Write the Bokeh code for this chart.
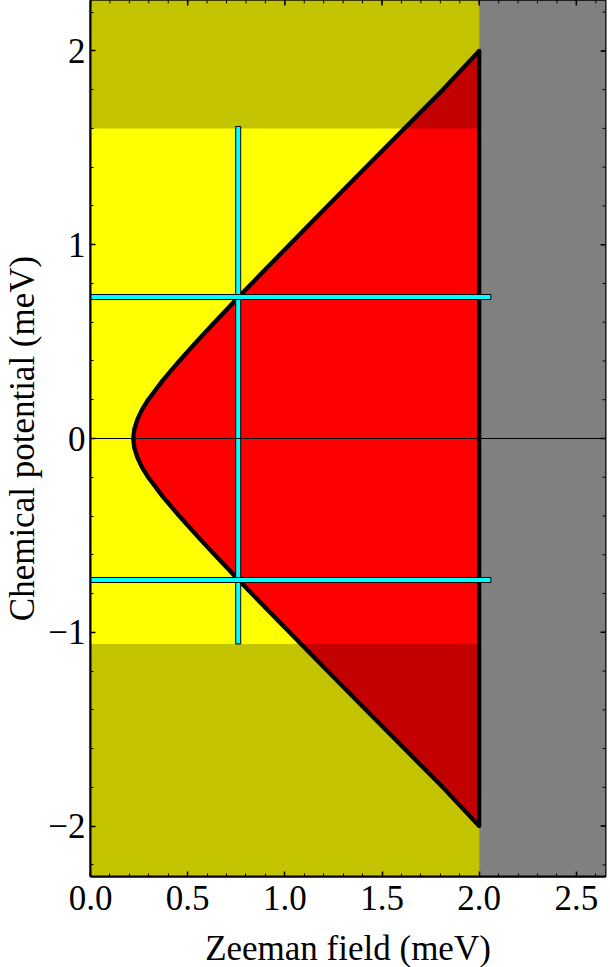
import numpy as np
from bokeh.plotting import figure
from bokeh.models import Range1d, FixedTicker, Span, CustomJSTickFormatter
from bokeh.embed import file_html
from bokeh.resources import INLINE

# ---- data ----
mu_curve = [-2.0, -1.8, -1.6, -1.4, -1.2, -1.0, -0.85, -0.73, -0.6, -0.5, -0.4, -0.3,
            -0.2, -0.15, -0.1, -0.05, 0.0, 0.05, 0.1, 0.15, 0.2, 0.3, 0.4, 0.5, 0.6,
            0.73, 0.85, 1.0, 1.2, 1.4, 1.6, 1.8, 2.0]
zeeman_curve = [2.0, 1.813, 1.615, 1.417, 1.22, 1.024, 0.878, 0.762, 0.639, 0.546, 0.457,
                0.372, 0.297, 0.266, 0.242, 0.226, 0.22, 0.226, 0.242, 0.266, 0.297, 0.372,
                0.457, 0.546, 0.639, 0.762, 0.878, 1.024, 1.22, 1.417, 1.615, 1.813, 2.0]

zeeman_limit = 2.0          # gray region starts here
zeeman_max = 2.65
mu_min, mu_max = -2.26, 2.26
band_mu = [-1.06, 1.6]      # bright (yellow / red) band
cut_zeeman = 0.76           # vertical cyan cut
cut_mu = [-0.73, 0.73]      # horizontal cyan cuts
cut_zeeman_extent = [0.0, 2.06]
cut_mu_extent = [-1.06, 1.61]

x_ticks = [0.0, 0.5, 1.0, 1.5, 2.0, 2.5]
y_ticks = [-2, -1, 0, 1, 2]
x_minor = [round(0.1 * i, 2) for i in range(0, 27)]
y_minor = [round(-2.2 + 0.2 * i, 2) for i in range(0, 23)]

FONT = "Liberation Serif"
FS = "35px"

p = figure(frame_width=515, frame_height=876,
           x_range=Range1d(0, zeeman_max), y_range=Range1d(mu_min, mu_max),
           output_backend="svg", toolbar_location=None,
           min_border_left=84, min_border_right=2, min_border_top=0, min_border_bottom=0,
           x_axis_label="Zeeman field (meV)", y_axis_label="Chemical potential (meV)")
p.xgrid.grid_line_color = None
p.ygrid.grid_line_color = None
p.outline_line_color = "black"
p.outline_line_width = 2
p.background_fill_color = "white"

xt = FixedTicker(ticks=x_ticks, minor_ticks=x_minor)
yt = FixedTicker(ticks=y_ticks, minor_ticks=y_minor)
p.xaxis.ticker = xt
p.yaxis.ticker = yt
p.xaxis.formatter = CustomJSTickFormatter(code="return tick.toFixed(1);")
p.yaxis.formatter = CustomJSTickFormatter(
    code="return tick < 0 ? '\u2212' + Math.abs(tick).toFixed(0) : tick.toFixed(0);")

for ax in (p.xaxis[0], p.yaxis[0]):
    ax.major_tick_in = 5
    ax.major_tick_out = 0
    ax.minor_tick_in = 3
    ax.minor_tick_out = 0
    ax.major_tick_line_width = 1.5
    ax.minor_tick_line_width = 1
    ax.axis_line_width = 2
    ax.major_label_text_font = FONT
    ax.major_label_text_font_size = FS
    ax.major_label_text_color = "black"
    ax.axis_label_text_font = FONT
    ax.axis_label_text_font_size = FS
    ax.axis_label_text_font_style = "normal"
    ax.axis_label_text_color = "black"
p.xaxis.major_label_standoff = 9
p.xaxis.axis_label_standoff = 16
p.yaxis.major_label_standoff = 5
p.yaxis.axis_label_standoff = 3

# regions
p.quad(left=[0], right=[zeeman_limit], bottom=[mu_min], top=[mu_max],
       fill_color="#FFFF00", line_color=None)
p.quad(left=[zeeman_limit], right=[zeeman_max], bottom=[mu_min], top=[mu_max],
       fill_color="#808080", line_color=None)
p.patch(zeeman_curve, mu_curve, fill_color="#FF0000", line_color=None)
# darker zones outside the band
p.quad(left=[0, 0], right=[zeeman_limit, zeeman_limit],
       bottom=[band_mu[1], mu_min], top=[mu_max, band_mu[0]],
       fill_color="black", fill_alpha=0.235, line_color=None)

# zero line
p.add_layout(Span(location=0, dimension="width", line_color="black", line_width=1))

# boundary
p.line(zeeman_curve, mu_curve, line_color="black", line_width=4.3, line_join="round")
p.segment(x0=[zeeman_limit], y0=[mu_curve[0]], x1=[zeeman_limit], y1=[mu_curve[-1]],
          line_color="black", line_width=4.3, line_cap="round")

# cyan cuts
p.rect(x=[cut_zeeman], y=[(cut_mu_extent[0] + cut_mu_extent[1]) / 2],
       width=5, width_units="screen", height=cut_mu_extent[1] - cut_mu_extent[0],
       fill_color="#00FFFF", line_color="black", line_width=1)
p.rect(x=[(cut_zeeman_extent[0] + cut_zeeman_extent[1]) / 2] * len(cut_mu), y=cut_mu,
       width=cut_zeeman_extent[1] - cut_zeeman_extent[0], height=5, height_units="screen",
       fill_color="#00FFFF", line_color="black", line_width=1)

# mirrored ticks on the top and right frame edges (half of each dash is clipped)
p.scatter(x=x_ticks, y=[mu_max] * len(x_ticks), marker="dash", size=10, angle=np.pi / 2,
          line_color="black", line_width=1.5)
p.scatter(x=x_minor, y=[mu_max] * len(x_minor), marker="dash", size=6, angle=np.pi / 2,
          line_color="black", line_width=1)
p.scatter(x=[zeeman_max] * len(y_ticks), y=y_ticks, marker="dash", size=10,
          line_color="black", line_width=1.5)
p.scatter(x=[zeeman_max] * len(y_minor), y=y_minor, marker="dash", size=6,
          line_color="black", line_width=1)

open("out.html", "w").write(file_html(p, INLINE))
